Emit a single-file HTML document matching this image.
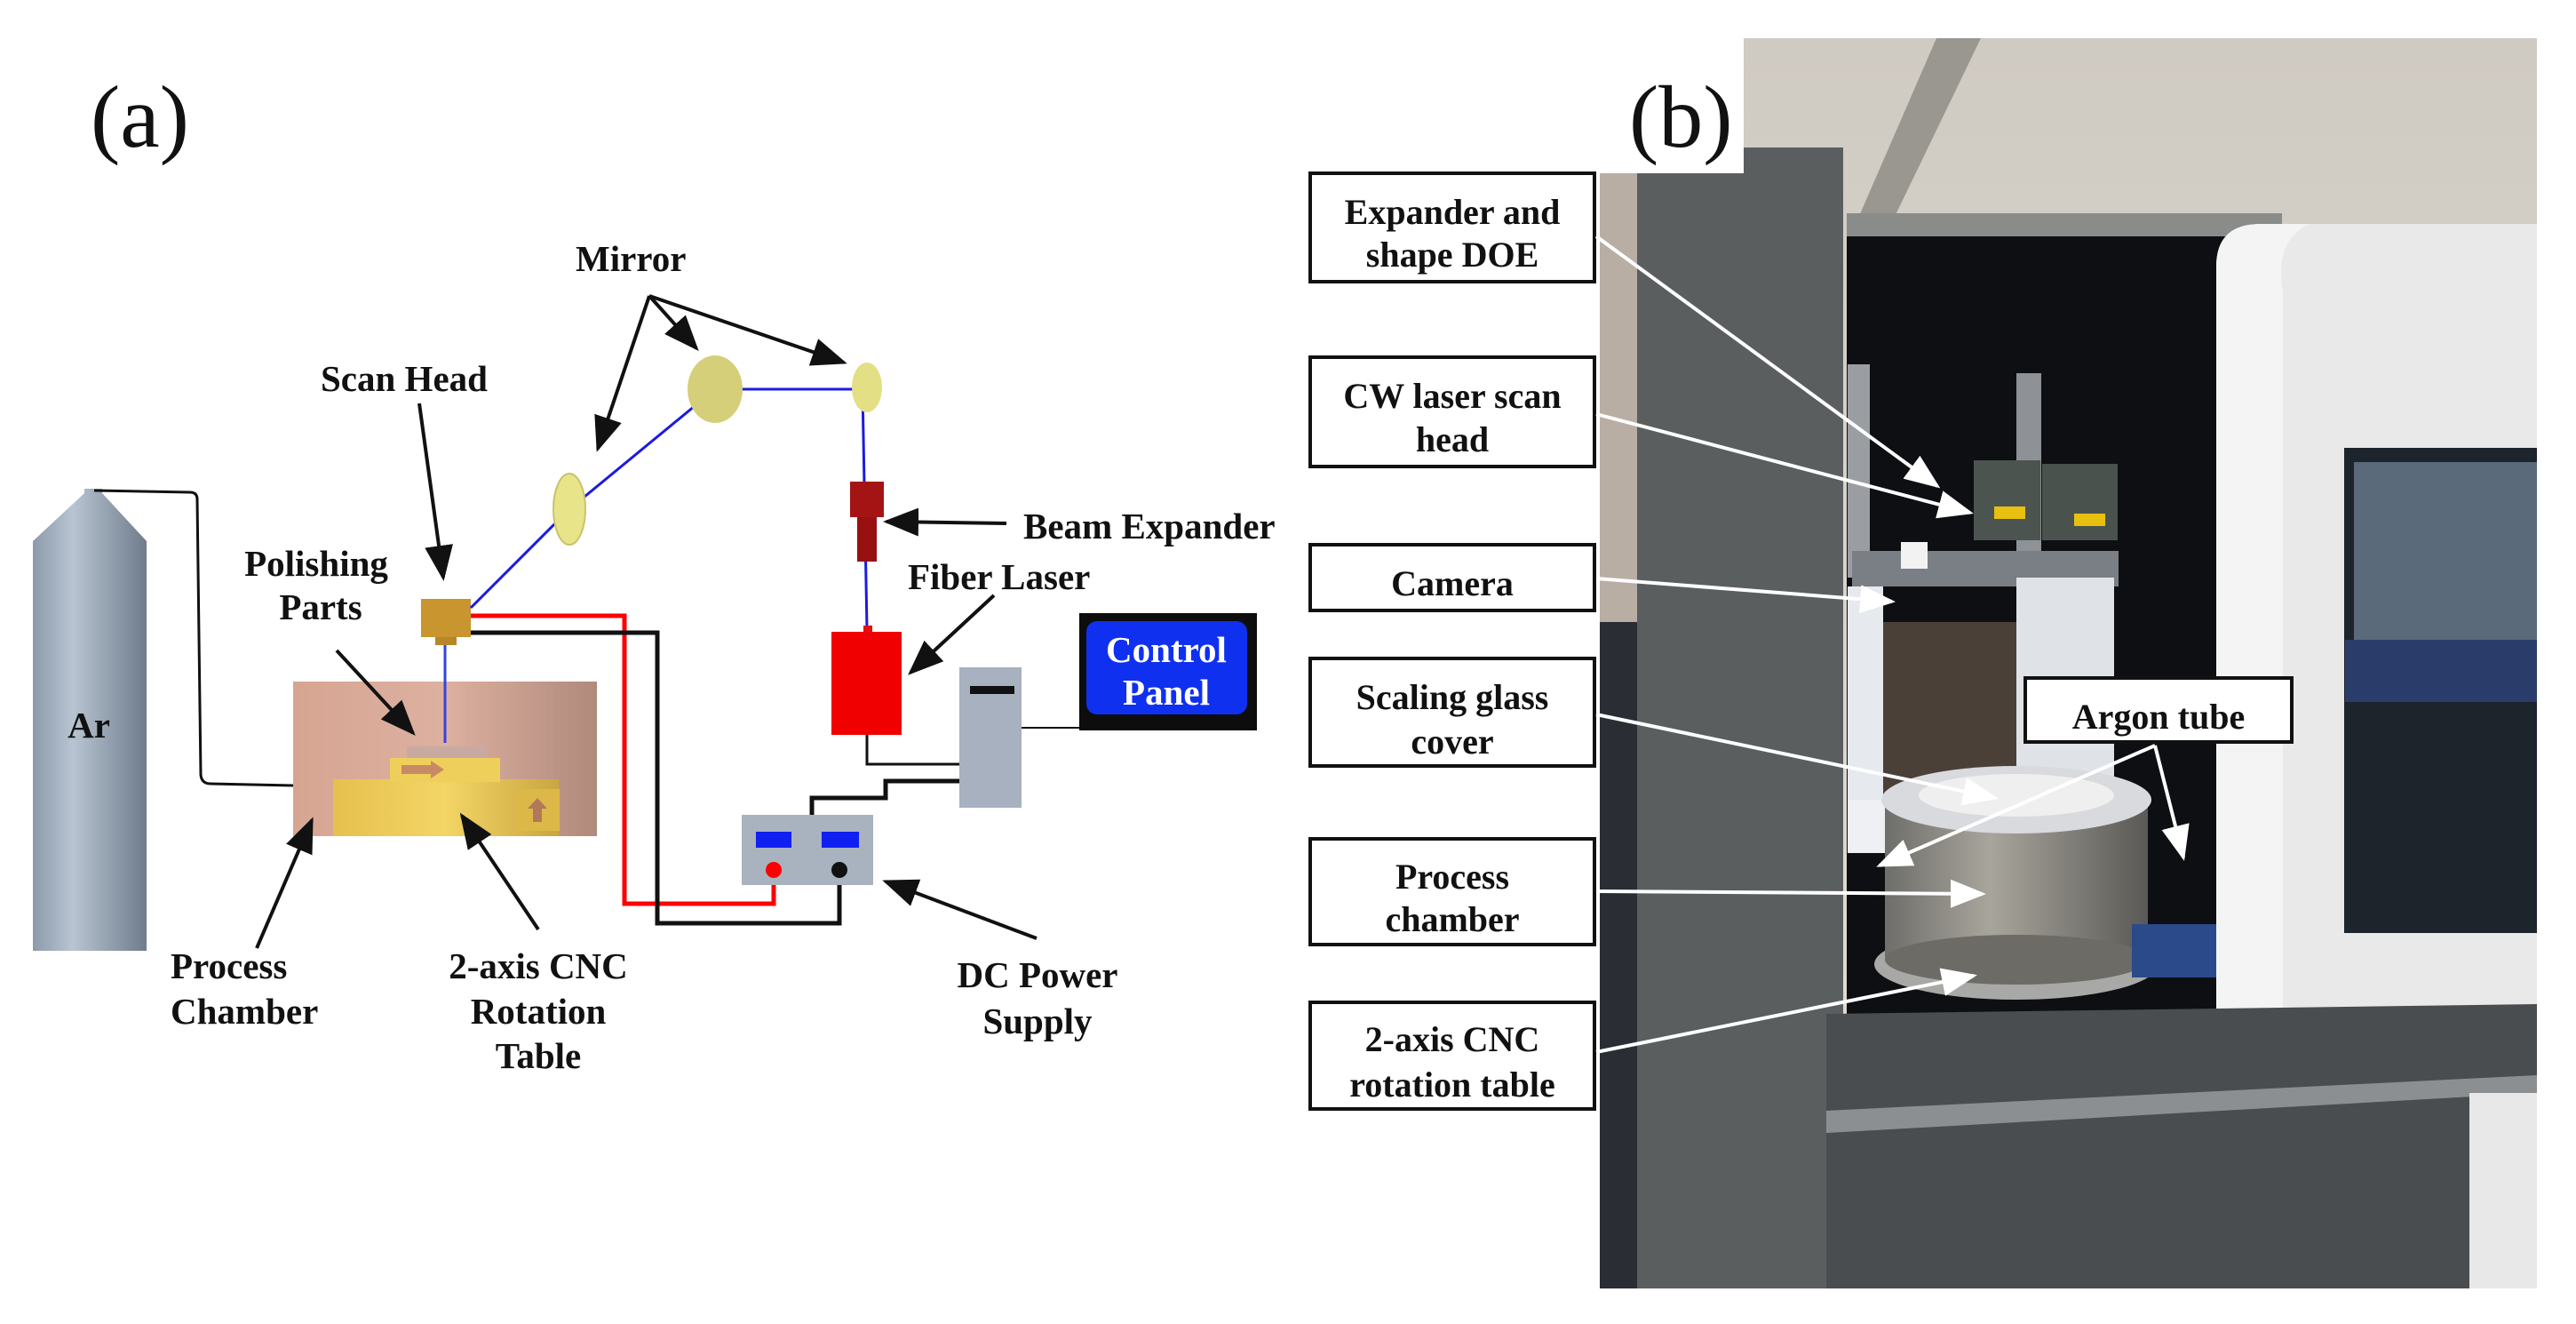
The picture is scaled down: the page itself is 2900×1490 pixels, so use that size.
<!DOCTYPE html>
<html><head><meta charset="utf-8"><style>
html,body{margin:0;padding:0;background:#fff;}
svg{display:block;}
.t{font-family:"Liberation Serif",serif;font-weight:bold;font-size:41px;fill:#111;}
.b{font-family:"Liberation Serif",serif;font-weight:bold;font-size:40px;fill:#111;text-anchor:middle;}
</style></head><body>
<svg width="2900" height="1490" viewBox="0 0 2900 1490" xmlns="http://www.w3.org/2000/svg">
<defs>
<marker id="ah" markerWidth="10" markerHeight="8" refX="9" refY="4" orient="auto" markerUnits="strokeWidth"><path d="M0,0 L10,4 L0,8 z" fill="#111"/></marker>
<marker id="wh" markerWidth="10" markerHeight="8" refX="9" refY="4" orient="auto" markerUnits="strokeWidth"><path d="M0,0 L10,4 L0,8 z" fill="#fff"/></marker>
<linearGradient id="ar" x1="0" x2="1"><stop offset="0" stop-color="#8c9aab"/><stop offset="0.35" stop-color="#b8c4d1"/><stop offset="1" stop-color="#6f7c8c"/></linearGradient>
<linearGradient id="ch" x1="0" x2="1"><stop offset="0" stop-color="#d6a592"/><stop offset="0.5" stop-color="#ddb0a0"/><stop offset="1" stop-color="#b08a7c"/></linearGradient>
<linearGradient id="yl" x1="0" x2="1"><stop offset="0" stop-color="#e6c04e"/><stop offset="0.5" stop-color="#f3d566"/><stop offset="1" stop-color="#c9a640"/></linearGradient>
<linearGradient id="st" x1="0" x2="1"><stop offset="0" stop-color="#6e6e6a"/><stop offset="0.4" stop-color="#a8a59c"/><stop offset="1" stop-color="#5a5955"/></linearGradient>
<linearGradient id="ceil" x1="0" y1="0" x2="0" y2="1"><stop offset="0" stop-color="#cfcac2"/><stop offset="1" stop-color="#e4e0d8"/></linearGradient>
</defs>

<text x="102" y="165" font-family="Liberation Serif,serif" font-size="100" fill="#111">(a)</text>

<path d="M37,609 L95,555 L95,550 L115,550 L115,555 L165,609 L165,1070 L37,1070 Z" fill="url(#ar)"/>
<text x="100" y="830" class="t" text-anchor="middle">Ar</text>
<path d="M106,552 L214,554 Q222,554 222,562 L226,872 Q227,882 237,882 L330,884" fill="none" stroke="#111" stroke-width="3"/>

<rect x="330" y="767" width="342" height="174" fill="url(#ch)"/>
<rect x="375" y="877" width="254" height="64" fill="url(#yl)"/>
<rect x="580" y="888" width="50" height="47" fill="#dcb848"/>
<path d="M600,925 L600,910 L594,910 L605,898 L616,910 L610,910 L610,925 Z" fill="#b07a5a"/>
<rect x="439" y="853" width="124" height="27" fill="#efcf5c"/>
<path d="M452,861 L485,861 L485,856 L500,866 L485,876 L485,871 L452,871 Z" fill="#c88a64"/>
<rect x="458" y="840" width="89" height="13" fill="#c8aaa0"/>

<rect x="474" y="674" width="56" height="43" fill="#c9952e"/>
<rect x="490" y="717" width="24" height="9" fill="#b8862a"/>
<line x1="501" y1="726" x2="501" y2="836" stroke="#3344dd" stroke-width="3"/>

<polyline points="530,684 641,573 805,438 971,438 976,708" fill="none" stroke="#1b1be0" stroke-width="3"/>
<ellipse cx="641" cy="573" rx="18" ry="40" fill="#e8e48a" stroke="#c9c36a" stroke-width="2"/>
<ellipse cx="805" cy="438" rx="31" ry="38" fill="#d4cf78"/>
<ellipse cx="976" cy="436" rx="17" ry="28" fill="#e3df85"/>
<rect x="957" y="542" width="38" height="40" fill="#a41414"/>
<rect x="965" y="582" width="22" height="50" fill="#981010"/>
<rect x="972" y="704" width="10" height="8" fill="#e01010"/>
<rect x="936" y="711" width="79" height="116" fill="#f00000"/>

<polyline points="530,693 703,693 703,1017 871,1017 871,979" fill="none" stroke="#f00" stroke-width="5"/>
<polyline points="530,712 740,712 740,1039 945,1039 945,979" fill="none" stroke="#111" stroke-width="5"/>
<polyline points="914,917 914,898 997,898 997,879 1080,879" fill="none" stroke="#111" stroke-width="5"/>
<polyline points="976,827 976,860 1080,860" fill="none" stroke="#111" stroke-width="3"/>
<line x1="1150" y1="819" x2="1215" y2="819" stroke="#111" stroke-width="2"/>

<rect x="1080" y="751" width="70" height="158" fill="#a7b1bf"/>
<rect x="1092" y="772" width="50" height="9" fill="#111"/>
<rect x="1215" y="690" width="200" height="132" fill="#0d0d0d"/>
<rect x="1223" y="699" width="181" height="105" rx="12" fill="#1030f0"/>
<text x="1313" y="745" class="t" text-anchor="middle" style="fill:#fff">Control</text>
<text x="1313" y="793" class="t" text-anchor="middle" style="fill:#fff">Panel</text>

<rect x="835" y="917" width="148" height="79" fill="#a9b2bf"/>
<rect x="851" y="936" width="40" height="18" fill="#1020f0"/>
<rect x="925" y="936" width="42" height="18" fill="#1020f0"/>
<circle cx="871" cy="979" r="9" fill="#f00"/>
<circle cx="945" cy="979" r="9" fill="#111"/>

<text x="648" y="305" class="t">Mirror</text>
<text x="361" y="440" class="t">Scan Head</text>
<text x="356" y="648" class="t" text-anchor="middle">Polishing</text>
<text x="361" y="697" class="t" text-anchor="middle">Parts</text>
<text x="1152" y="606" class="t">Beam Expander</text>
<text x="1022" y="663" class="t">Fiber Laser</text>
<text x="192" y="1101" class="t">Process</text>
<text x="192" y="1152" class="t">Chamber</text>
<text x="606" y="1101" class="t" text-anchor="middle">2-axis CNC</text>
<text x="606" y="1152" class="t" text-anchor="middle">Rotation</text>
<text x="606" y="1202" class="t" text-anchor="middle">Table</text>
<text x="1168" y="1111" class="t" text-anchor="middle">DC Power</text>
<text x="1168" y="1163" class="t" text-anchor="middle">Supply</text>

<g stroke="#111" stroke-width="4" fill="none" marker-end="url(#ah)">
<line x1="731" y1="333" x2="673" y2="505"/>
<line x1="731" y1="333" x2="784" y2="392"/>
<line x1="731" y1="333" x2="950" y2="408"/>
<line x1="472" y1="454" x2="499" y2="650"/>
<line x1="379" y1="732" x2="465" y2="825"/>
<line x1="1133" y1="589" x2="998" y2="587"/>
<line x1="1119" y1="670" x2="1025" y2="757"/>
<line x1="289" y1="1067" x2="351" y2="923"/>
<line x1="606" y1="1046" x2="520" y2="918"/>
<line x1="1167" y1="1056" x2="997" y2="992"/>
</g>

<rect x="1801" y="43" width="1055" height="1407" fill="url(#ceil)"/>
<polygon points="2180,43 2230,43 2130,250 2090,250" fill="#9a9690"/>
<rect x="1801" y="195" width="42" height="1255" fill="#b8aea4"/>
<rect x="1801" y="700" width="42" height="750" fill="#2a2d33"/>
<rect x="1843" y="166" width="232" height="1284" fill="#5b5e5f"/>
<rect x="2079" y="240" width="490" height="26" fill="#8a8c8a"/>
<rect x="2079" y="266" width="490" height="875" fill="#0d0f12"/>
<rect x="2080" y="410" width="25" height="240" fill="#9a9ea2"/>
<rect x="2270" y="420" width="28" height="220" fill="#8e9296"/>
<rect x="2085" y="620" width="300" height="40" fill="#7a7f85"/>
<rect x="2080" y="660" width="40" height="270" fill="#e6e9ee"/>
<rect x="2270" y="650" width="110" height="280" fill="#dfe3e8"/>
<rect x="2120" y="700" width="150" height="200" fill="#4a4038"/>
<rect x="2080" y="900" width="300" height="60" fill="#eef0f4"/>
<rect x="2222" y="518" width="75" height="90" fill="#4c5450"/>
<rect x="2299" y="522" width="85" height="86" fill="#4a524e"/>
<rect x="2245" y="570" width="35" height="14" fill="#e8c010"/>
<rect x="2335" y="578" width="35" height="14" fill="#e8c010"/>
<rect x="2140" y="610" width="30" height="30" fill="#f2f2f2"/>
<ellipse cx="2270" cy="1085" rx="160" ry="40" fill="#a8a8a6"/>
<rect x="2122" y="900" width="296" height="180" fill="url(#st)"/>
<ellipse cx="2270" cy="1080" rx="148" ry="28" fill="#6c6b66"/>
<ellipse cx="2270" cy="900" rx="152" ry="38" fill="#d8dade"/>
<ellipse cx="2270" cy="895" rx="110" ry="24" fill="#efeff0"/>
<rect x="2400" y="1040" width="160" height="60" fill="#2a4a8a"/>
<path d="M2495,300 Q2495,252 2545,252 L2856,252 L2856,1155 L2520,1155 Q2495,1155 2495,1130 Z" fill="#e9e9ea"/>
<path d="M2495,300 Q2495,252 2545,252 L2600,252 Q2560,270 2570,330 L2570,1141 L2495,1141 Z" fill="#f4f4f4"/>
<rect x="2639" y="504" width="217" height="546" fill="#1e242c"/>
<rect x="2650" y="520" width="206" height="200" fill="#5a6a7a"/>
<rect x="2640" y="720" width="216" height="70" fill="#2a3c6a"/>
<polygon points="2056,1141 2856,1130 2856,1450 2056,1450" fill="#4a4d50"/>
<polygon points="2056,1250 2856,1210 2856,1230 2056,1275" fill="#8c8f92"/>
<rect x="2780" y="1230" width="76" height="220" fill="#e8e8e8"/>
<rect x="1801" y="43" width="162" height="152" fill="#fff"/>
<rect x="1963" y="0" width="937" height="43" fill="#fff"/>
<text x="1834" y="165" font-family="Liberation Serif,serif" font-size="100" fill="#111">(b)</text>

<g fill="#fff" stroke="#111" stroke-width="4">
<rect x="1475" y="195" width="320" height="122"/>
<rect x="1475" y="402" width="320" height="123"/>
<rect x="1475" y="613" width="320" height="74"/>
<rect x="1475" y="741" width="320" height="121"/>
<rect x="1475" y="944" width="320" height="119"/>
<rect x="1475" y="1128" width="320" height="120"/>
<rect x="2280" y="763" width="300" height="72"/>
</g>
<text x="1635" y="252" class="b">Expander and</text>
<text x="1635" y="300" class="b">shape DOE</text>
<text x="1635" y="459" class="b">CW laser scan</text>
<text x="1635" y="508" class="b">head</text>
<text x="1635" y="670" class="b">Camera</text>
<text x="1635" y="798" class="b">Scaling glass</text>
<text x="1635" y="848" class="b">cover</text>
<text x="1635" y="1000" class="b">Process</text>
<text x="1635" y="1048" class="b">chamber</text>
<text x="1635" y="1183" class="b">2-axis CNC</text>
<text x="1635" y="1234" class="b">rotation table</text>
<text x="2430" y="820" class="b">Argon tube</text>

<g stroke="#fff" stroke-width="4" fill="none" marker-end="url(#wh)">
<line x1="1797" y1="266" x2="2181" y2="547"/>
<line x1="1797" y1="466" x2="2218" y2="577"/>
<line x1="1797" y1="651" x2="2130" y2="677"/>
<line x1="1797" y1="804" x2="2246" y2="898"/>
<line x1="1797" y1="1003" x2="2232" y2="1006"/>
<line x1="1797" y1="1184" x2="2222" y2="1098"/>
<line x1="2426" y1="839" x2="2116" y2="974"/>
<line x1="2426" y1="839" x2="2458" y2="965"/>
</g>
</svg>
</body></html>
